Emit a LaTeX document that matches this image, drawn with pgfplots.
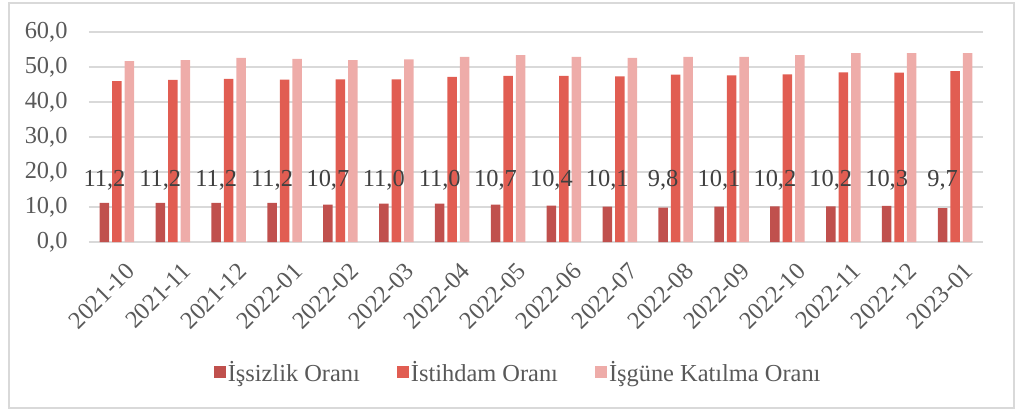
\documentclass[border=0pt]{standalone}
\usepackage{pgfplots}
\usepackage{pgfplotstable}
\pgfplotsset{compat=1.18}
\usepackage{fontspec}
\setmainfont{Liberation Serif}

\definecolor{issiz}{HTML}{C0504D}
\definecolor{istih}{HTML}{E15D52}
\definecolor{katil}{HTML}{EEACA9}
\definecolor{gridc}{HTML}{D9D9D9}
\definecolor{txt}{HTML}{595959}
\definecolor{lbl}{HTML}{404040}

% u = issizlik, e = istihdam, p = isgucune katilma
\pgfplotstableread{
x u e p lab
0 11.2 46.0 51.7 11,2
1 11.2 46.3 52.0 11,2
2 11.2 46.6 52.6 11,2
3 11.2 46.4 52.3 11,2
4 10.7 46.5 52.0 10,7
5 11.0 46.5 52.2 11,0
6 11.0 47.2 52.9 11,0
7 10.7 47.5 53.4 10,7
8 10.4 47.5 52.9 10,4
9 10.1 47.3 52.6 10,1
10 9.8 47.8 52.9 9,8
11 10.1 47.6 52.9 10,1
12 10.2 47.9 53.4 10,2
13 10.2 48.5 54.0 10,2
14 10.3 48.4 54.0 10,3
15 9.7 48.8 54.0 9,7
}\data

\begin{document}
\begin{tikzpicture}
\useasboundingbox (-89bp,-168bp) rectangle (936bp,242bp);
\draw[gridc, line width=1.2bp] (-80bp,-166bp) rectangle (925bp,239bp);
\begin{axis}[
  at={(0,0)}, anchor=south west,
  scale only axis, width=894bp, height=210bp,
  xmin=-0.5, xmax=15.5, ymin=0, ymax=60,
  ytick={0,10,...,60},
  xtick={0,...,15},
  xticklabels={2021-10,2021-11,2021-12,2022-01,2022-02,2022-03,2022-04,2022-05,2022-06,2022-07,2022-08,2022-09,2022-10,2022-11,2022-12,2023-01},
  axis line style={draw=none},
  tick style={draw=none},
  ymajorgrids, grid style={gridc, line width=1.2bp},
  tick label style={font=\fontsize{24.5}{28}\selectfont, text=txt},
  yticklabel style={xshift=-18bp, /pgf/number format/fixed, /pgf/number format/fixed zerofill,
    /pgf/number format/precision=1, /pgf/number format/use comma, /pgf/number format/assume math mode=true},
  x tick label style={rotate=45, anchor=north east, inner sep=1bp, xshift=-7bp, yshift=-18bp},
  legend style={at={(0.48,-0.62)}, anchor=center, draw=none, legend columns=3,
    font=\fontsize{24.5}{28}\selectfont, text=txt,
    /tikz/every even column/.append style={column sep=35bp}},
  legend image code/.code={\fill[#1] (0bp,-6bp) rectangle (12bp,6bp);},
]
\addplot[ybar, bar width=0.17, bar shift=-0.224, fill=issiz, draw=none] table[x=x, y=u] {\data};
\addplot[ybar, bar width=0.17, bar shift=0, fill=istih, draw=none] table[x=x, y=e] {\data};
\addplot[ybar, bar width=0.17, bar shift=0.224, fill=katil, draw=none] table[x=x, y=p] {\data};
\addplot[draw=none, forget plot, nodes near coords, point meta=explicit symbolic,
  every node near coord/.style={anchor=base, font=\fontsize{24.5}{28}\selectfont, text=lbl}]
  table[x expr=\thisrow{x}-0.224, y expr=15.8, meta=lab] {\data};
\legend{İşsizlik Oranı, İstihdam Oranı, İşgüne Katılma Oranı}
\end{axis}
\end{tikzpicture}
\end{document}
